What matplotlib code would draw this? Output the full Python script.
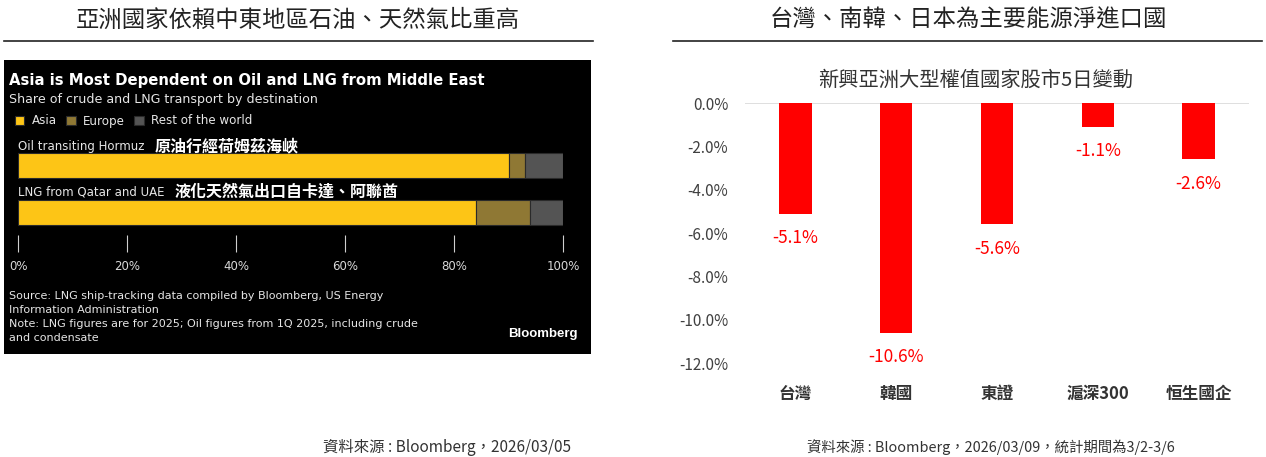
import matplotlib
matplotlib.use("Agg")
import matplotlib.pyplot as plt
from matplotlib.patches import Rectangle
from matplotlib.lines import Line2D
from matplotlib.ticker import FuncFormatter

# ---------------- data ----------------
routes = ["Oil transiting Hormuz", "LNG from Qatar and UAE"]
routes_zh = ["原油行經荷姆茲海峽", "液化天然氣出口自卡達、阿聯酋"]
asia = [90, 84]
europe = [3, 10]
rest = [7, 6]
dest_names = ["Asia", "Europe", "Rest of the world"]
pct_ticks = [0, 20, 40, 60, 80, 100]

markets = ["台灣", "韓國", "東證", "滬深300", "恒生國企"]
change_5d = [-5.1, -10.6, -5.6, -1.1, -2.6]
y_ticks = [0, -2, -4, -6, -8, -10, -12]

title_left = "亞洲國家依賴中東地區石油、天然氣比重高"
title_right = "台灣、南韓、日本為主要能源淨進口國"
src_left = "資料來源 : Bloomberg，2026/03/05"
src_right = "資料來源 : Bloomberg，2026/03/09，統計期間為3/2-3/6"

# ---------------- figure ----------------
W, H = 1266, 457
fig = plt.figure(figsize=(W / 100, H / 100), dpi=100)
fig.patch.set_facecolor("white")
CJK = ["Noto Sans CJK TC", "DejaVu Sans"]
COND = ["DejaVu Sans"]
plt.rcParams["font.family"] = CJK


def fx(x):
    return x / W


def fy(y):
    return 1 - y / H


# top titles and rules
fig.text(fx(298), fy(20), title_left, ha="center", va="center", fontsize=16.8, color="#222222")
fig.text(fx(968), fy(20), title_right, ha="center", va="center", fontsize=16.8, color="#222222")
fig.add_artist(Line2D([fx(4), fx(593)], [fy(41), fy(41)], color="#222222", lw=1.2))
fig.add_artist(Line2D([fx(673), fx(1262)], [fy(41), fy(41)], color="#222222", lw=1.2))

# sources
fig.text(fx(447), fy(447), src_left, ha="center", va="center", fontsize=11.1, color="#333333")
fig.text(fx(991), fy(447), src_right, ha="center", va="center", fontsize=10.4, color="#333333")

# ---------------- left: Bloomberg style panel ----------------
fig.add_artist(Rectangle((fx(4), fy(354)), fx(587), 294 / H, transform=fig.transFigure,
                         facecolor="black", edgecolor="none", zorder=0))
fig.text(fx(9), fy(80), "Asia is Most Dependent on Oil and LNG from Middle East",
         family=COND, fontweight="bold", fontsize=10.7, color="white", va="center")
fig.text(fx(9), fy(99), "Share of crude and LNG transport by destination",
         family=COND, fontsize=9.1, color="#e6e6e6", va="center")

c_asia, c_eur, c_rest = "#FDC516", "#8F7834", "#545454"
axL = fig.add_axes([fx(18), fy(252), (563 - 18) / W, (252 - 140) / H])
axL.set_facecolor("none")
ypos = [1, 0]
h = 0.53
b1 = axL.barh(ypos, asia, height=h, color=c_asia, edgecolor="#2a2a2a", lw=0.8, label=dest_names[0])
b2 = axL.barh(ypos, europe, left=asia, height=h, color=c_eur, edgecolor="#2a2a2a", lw=0.8,
              label=dest_names[1])
left3 = [a + e for a, e in zip(asia, europe)]
b3 = axL.barh(ypos, rest, left=left3, height=h, color=c_rest, edgecolor="#2a2a2a", lw=0.8,
              label=dest_names[2])
axL.set_xlim(0, 100)
axL.set_ylim(-0.84, 1.54)
for s in axL.spines.values():
    s.set_visible(False)
axL.set_yticks([])
axL.set_xticks(pct_ticks)
axL.set_xticklabels([f"{t}%" for t in pct_ticks], family=COND, fontsize=8.5, color="#d9d9d9")
axL.tick_params(axis="x", direction="in", length=12, width=0.8, color="#cfcfcf", pad=6)

label_y = [1.41, 0.44]
zh_x = [25.1, 28.8]
for yy, en, zh, zx in zip(label_y, routes, routes_zh, zh_x):
    axL.text(0, yy, en, family=COND, fontsize=8.5, color="#e6e6e6", va="center", ha="left")
    axL.text(zx, yy, zh, family=CJK, fontsize=11.5, fontweight="bold", color="white",
             va="center", ha="left")

leg = axL.legend(handles=[b1, b2, b3], loc="center left", bbox_to_anchor=(fx(4), fy(121)),
                 bbox_transform=fig.transFigure, ncol=3, frameon=False,
                 handlelength=0.8, handleheight=0.8, handletextpad=0.6, columnspacing=0.8,
                 prop={"family": COND, "size": 8.6})
for t in leg.get_texts():
    t.set_color("#e6e6e6")

notes = ("Source: LNG ship-tracking data compiled by Bloomberg, US Energy\n"
         "Information Administration\n"
         "Note: LNG figures are for 2025; Oil figures from 1Q 2025, including crude\n"
         "and condensate")
fig.text(fx(9), fy(291), notes, family=COND, fontsize=8.0, color="#e6e6e6", va="top",
         ha="left", linespacing=1.48)
fig.text(fx(578), fy(334), "Bloomberg", family=["Liberation Sans", "DejaVu Sans"],
         fontweight="bold", fontsize=9.5, color="white", va="center", ha="right")

# ---------------- right: bar chart ----------------
axR = fig.add_axes([fx(745), fy(363), (1249 - 745) / W, (363 - 103) / H])
xs = list(range(len(markets)))
axR.bar(xs, change_5d, width=0.32, color="#FF0000", zorder=3)
axR.set_ylim(-12, 0)
axR.set_xlim(-0.5, len(markets) - 0.5)
axR.set_yticks(y_ticks)
axR.yaxis.set_major_formatter(FuncFormatter(lambda v, p: f"{v:.1f}%"))
axR.axhline(0, color="#d9d9d9", lw=1.2, zorder=1)
for s in axR.spines.values():
    s.set_visible(False)
axR.tick_params(axis="y", length=0, labelsize=11, labelcolor="#404040", pad=12)
axR.set_xticks(xs)
axR.set_xticklabels(markets, fontsize=12, fontweight="bold", color="#333333")
axR.tick_params(axis="x", length=0, pad=16)
for x, v in zip(xs, change_5d):
    axR.annotate(f"{v:.1f}%", (x, v), xytext=(0, -17.5), textcoords="offset points",
                 ha="center", va="center", fontsize=12.5, color="#FF0000")
fig.text(fx(976), fy(80), "新興亞洲大型權值國家股市5日變動", ha="center", va="center",
         fontsize=14.6, color="#333333")

fig.savefig("out.png", dpi=100, facecolor="white")
